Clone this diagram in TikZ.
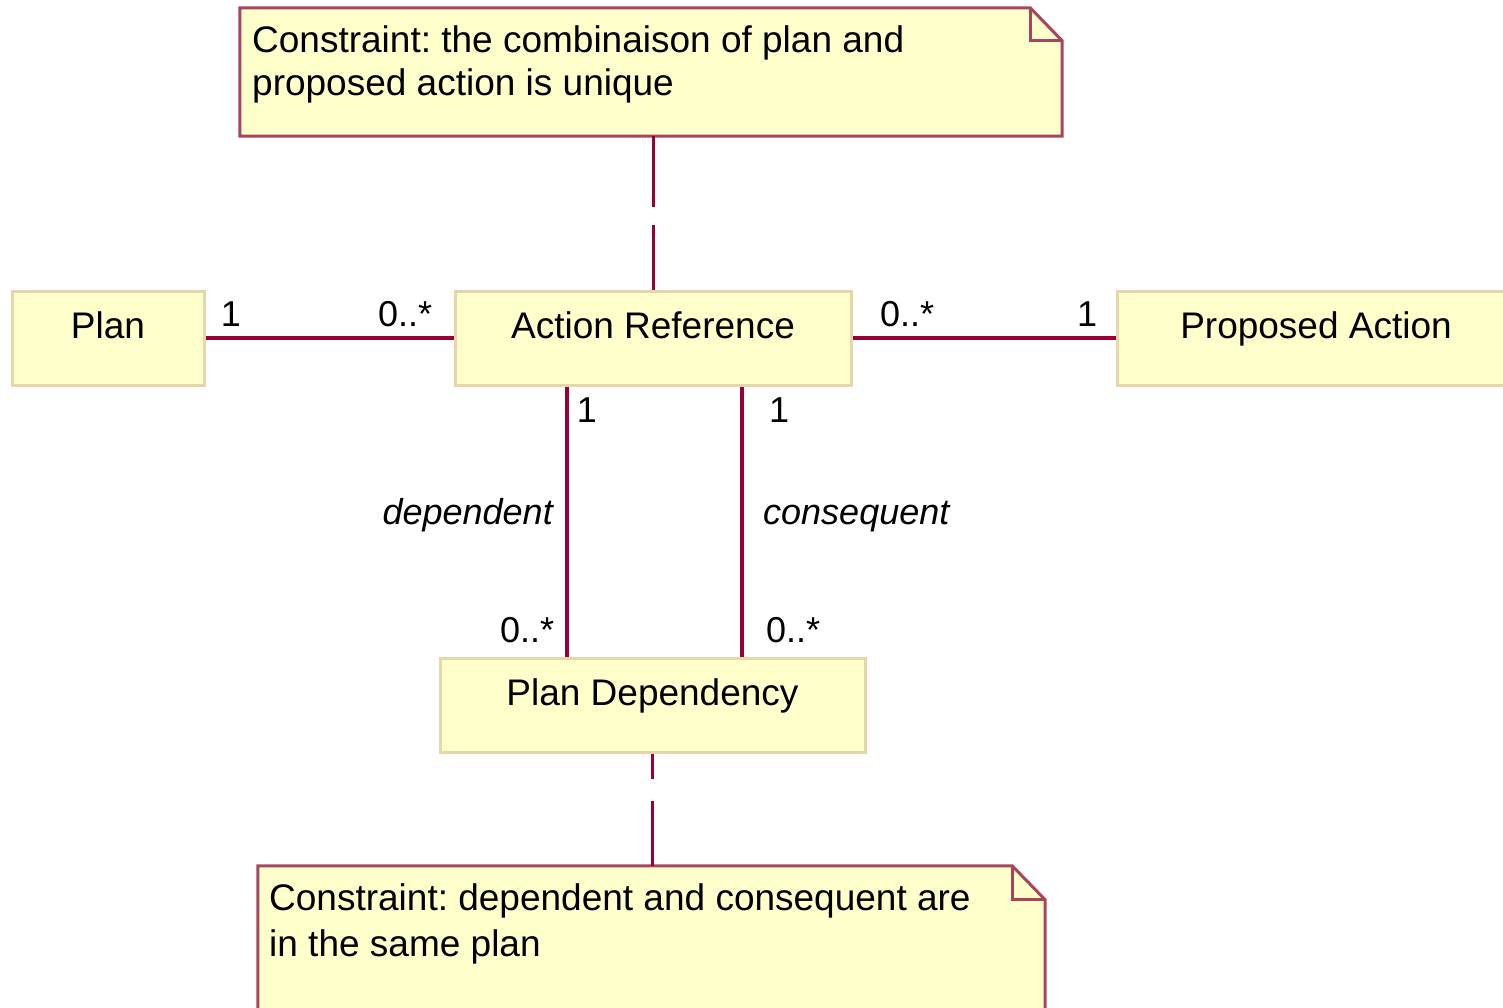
\documentclass[tikz,border=0pt]{standalone}
\usepackage{fontspec}
\setmainfont{Liberation Sans}
\usetikzlibrary{calc}
\frenchspacing

\definecolor{clsfill}{HTML}{FFFFCC}
\definecolor{clsline}{HTML}{E6D6AA}
\definecolor{assocline}{HTML}{990033}
\definecolor{noteline}{HTML}{A8455E}

\begin{document}
\begin{tikzpicture}[x=1pt, y=-1pt]
	\tikzset{cls/.style={rectangle, draw=clsline, fill=clsfill, line width=3pt, inner sep=0pt, text height=26pt, text depth=26pt, minimum height=94pt, font=\fontsize{37}{43}\selectfont}};
	\tikzset{assoc/.style={draw=assocline, line width=3.5pt}};
	\tikzset{mult/.style={inner sep=0pt, font=\fontsize{36}{43}\selectfont}};
	\tikzset{role/.style={inner sep=0pt, font=\fontsize{36}{43}\selectfont\itshape}};
	\tikzset{notebody/.style={rectangle, inner sep=0pt}};
	\tikzset{notetext/.style={inner sep=0pt, align=left, anchor=north west}};
	\tikzset{noteframe/.style={draw=noteline, fill=clsfill, line width=3pt, line join=miter}};

	\useasboundingbox (0,0) rectangle (1503,1008);
	\clip (0,0) rectangle (1503,1008);

	% notes
	\node[notebody, minimum width=822pt, minimum height=128pt] (topnote) at (651,72) {};
	\filldraw[noteframe] (topnote.south west) -- (topnote.north west) -- ($(topnote.north east)+(-32,0)$) -- ($(topnote.north east)+(0,33)$) -- (topnote.south east) -- cycle;
	\draw[noteframe, fill=none] ($(topnote.north east)+(-32,0)$) -- ($(topnote.north east)+(-32,33)$) -- ($(topnote.north east)+(0,33)$);
	\node[notetext, font=\fontsize{37}{43}\selectfont] (topnotetext) at (252,25) {Constraint: the combinaison of plan and\\proposed action is unique};

	\node[notebody, minimum width=787pt, minimum height=174pt] (botnote) at (651.5,953) {};
	\filldraw[noteframe] (botnote.south west) -- (botnote.north west) -- ($(botnote.north east)+(-33,0)$) -- ($(botnote.north east)+(0,34)$) -- (botnote.south east) -- cycle;
	\draw[noteframe, fill=none] ($(botnote.north east)+(-33,0)$) -- ($(botnote.north east)+(-33,34)$) -- ($(botnote.north east)+(0,34)$);
	\node[notetext, font=\fontsize{37}{46}\selectfont] (botnotetext) at (269,883) {Constraint: dependent and consequent are\\in the same plan};

	% classes
	\node[cls, minimum width=192pt] (plan) at (108,338) {Plan};
	\node[cls, minimum width=396pt] (actref) at (653,338) {Action Reference};
	\node[cls, minimum width=398pt] (propact) at (1316,338) {Proposed Action};
	\node[cls, minimum width=425pt] (plandep) at (652.5,705) {Plan Dependency};

	% associations
	\draw[assoc] (plan) -- (actref);
	\draw[assoc] (actref) -- (propact);
	\draw[assoc] ([xshift=-86pt]actref.south) -- ([xshift=-86pt]actref.south |- plandep.north);
	\draw[assoc] ([xshift=89pt]actref.south) -- ([xshift=89pt]actref.south |- plandep.north);

	% anchor lines to the notes
	\draw[assoc, line width=3pt, dash pattern=on 71pt off 18pt on 200pt] (topnote.south -| actref.north) -- (actref.north);
	\draw[assoc, line width=3pt, dash pattern=on 25pt off 22pt on 200pt] (plandep.south) -- (plandep.south |- botnote.north);

	% multiplicities and roles
	\node[mult, anchor=base] (mplan) at (231,326) {1};
	\node[mult, anchor=base west] (mref1) at (378,326) {0..*};
	\node[mult, anchor=base west] (mref2) at (880,326) {0..*};
	\node[mult, anchor=base] (mprop) at (1087,326) {1};
	\node[mult, anchor=base] (mdep1) at (587,422) {1};
	\node[mult, anchor=base] (mcon1) at (779,422) {1};
	\node[role, anchor=base east] (rdep) at (553,524) {dependent};
	\node[role, anchor=base west] (rcon) at (763,524) {consequent};
	\node[mult, anchor=base west] (mdep2) at (500,642) {0..*};
	\node[mult, anchor=base west] (mcon2) at (766,642) {0..*};

\end{tikzpicture}
\end{document}
